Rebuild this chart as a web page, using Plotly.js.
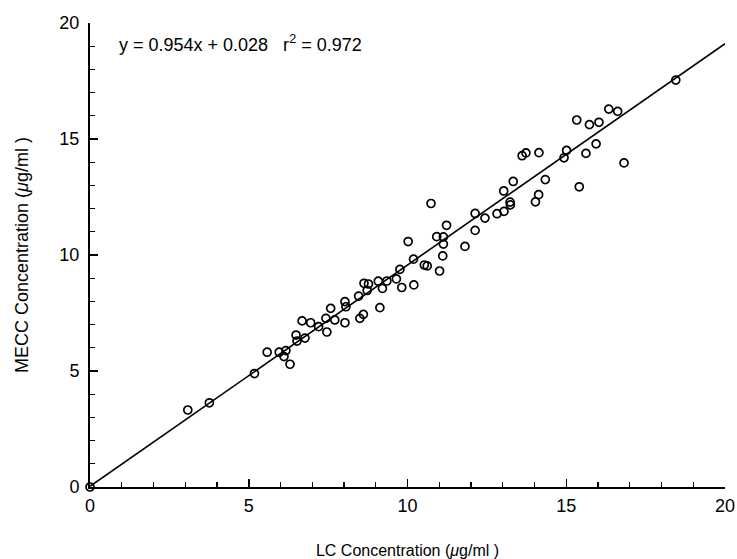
<!DOCTYPE html>
<html>
<head>
<meta charset="utf-8">
<script src="https://cdn.plot.ly/plotly-3.0.1.min.js"></script>
<style>html,body{margin:0;padding:0;background:#fff;}#chart{width:737px;height:559px;}</style>
</head>
<body>
<div id="chart"></div>
<script>
const lcConc = [0, 3.08, 3.76, 5.18, 5.58, 5.96, 6.17, 6.11, 6.30, 6.49, 6.52, 6.77, 6.68, 6.95, 7.20, 7.43, 7.58, 7.71, 7.46, 8.03,
  8.06, 8.03, 8.46, 8.50, 8.61, 8.63, 8.77, 8.73, 9.08, 9.13, 9.35, 9.21, 9.65, 9.76, 9.82, 10.20, 10.02, 10.19, 10.53, 10.62,
  11.01, 11.11, 10.74, 10.92, 11.13, 11.13, 11.23, 11.81, 12.13, 12.13, 12.44, 12.82, 13.04, 13.03, 13.23, 13.24, 13.33, 13.61, 13.73, 14.14,
  14.34, 14.13, 14.03, 15.01, 14.93, 15.41, 15.62, 15.94, 15.33, 15.73, 16.03, 16.34, 16.62, 16.82, 18.45];
const meccConc = [0, 3.32, 3.63, 4.89, 5.81, 5.81, 5.88, 5.62, 5.29, 6.55, 6.29, 6.42, 7.16, 7.08, 6.91, 7.27, 7.70, 7.20, 6.68, 7.99,
  7.77, 7.08, 8.23, 7.27, 7.44, 8.78, 8.75, 8.47, 8.87, 7.73, 8.88, 8.56, 8.97, 9.38, 8.60, 8.71, 10.58, 9.82, 9.57, 9.53,
  9.31, 9.96, 12.22, 10.79, 10.78, 10.47, 11.28, 10.37, 11.79, 11.06, 11.59, 11.78, 11.88, 12.76, 12.28, 12.16, 13.17, 14.28, 14.40, 14.41,
  13.25, 12.60, 12.29, 14.51, 14.19, 12.94, 14.38, 14.79, 15.82, 15.62, 15.72, 16.29, 16.19, 13.97, 17.54];
const fitSlope = [0.954];
const fitIntercept = [0.028];
const fitX = [0, 20];
const fitY = fitX.map(v => fitSlope[0] * v + fitIntercept[0]);
const tickVals = [0, 5, 10, 15, 20];
const tickText = ['0', '5', '10', '15', '20'];

const font = {family: 'Liberation Sans, Arial, sans-serif', color: '#000'};

const data = [
  {x: fitX, y: fitY, mode: 'lines', line: {color: '#000', width: 1.6}, hoverinfo: 'skip', cliponaxis: false},
  {x: lcConc, y: meccConc, mode: 'markers', cliponaxis: false,
   marker: {symbol: 'circle-open', size: 8, color: '#000', line: {width: 1.7, color: '#000'}}}
];

const axisCommon = {
  range: [0, 20], tickvals: tickVals, ticktext: tickText,
  ticks: 'inside', ticklen: 8, tickwidth: 1.5, tickcolor: '#000',
  showline: true, linecolor: '#000', linewidth: 2, mirror: false,
  showgrid: false, zeroline: false,
  tickfont: Object.assign({size: 18}, font),
  minor: {dtick: 1, ticks: 'inside', ticklen: 5, tickwidth: 1.2, tickcolor: '#000', showgrid: false}
};

const layout = {
  width: 737, height: 559,
  margin: {l: 90, r: 12, t: 23, b: 72},
  paper_bgcolor: '#fff', plot_bgcolor: '#fff',
  showlegend: false,
  xaxis: Object.assign({}, axisCommon, {
    ticklabelstandoff: 1,
    title: {text: 'LC Concentration (<i>μ</i>g/ml )', font: Object.assign({size: 16}, font), standoff: 30}
  }),
  yaxis: Object.assign({}, axisCommon, {
    ticklabelstandoff: 5,
    title: {text: 'MECC Concentration (<i>μ</i>g/ml )', font: Object.assign({size: 18}, font), standoff: 26}
  }),
  annotations: [{
    xref: 'paper', yref: 'paper', x: 0.043, y: 0.955, xanchor: 'left', yanchor: 'middle',
    showarrow: false, text: 'y = 0.954x + 0.028 &nbsp;&nbsp;r<sup>2</sup> = 0.972',
    font: Object.assign({size: 18}, font)
  }]
};

Plotly.newPlot('chart', data, layout, {displayModeBar: false, staticPlot: true});
</script>
</body>
</html>
